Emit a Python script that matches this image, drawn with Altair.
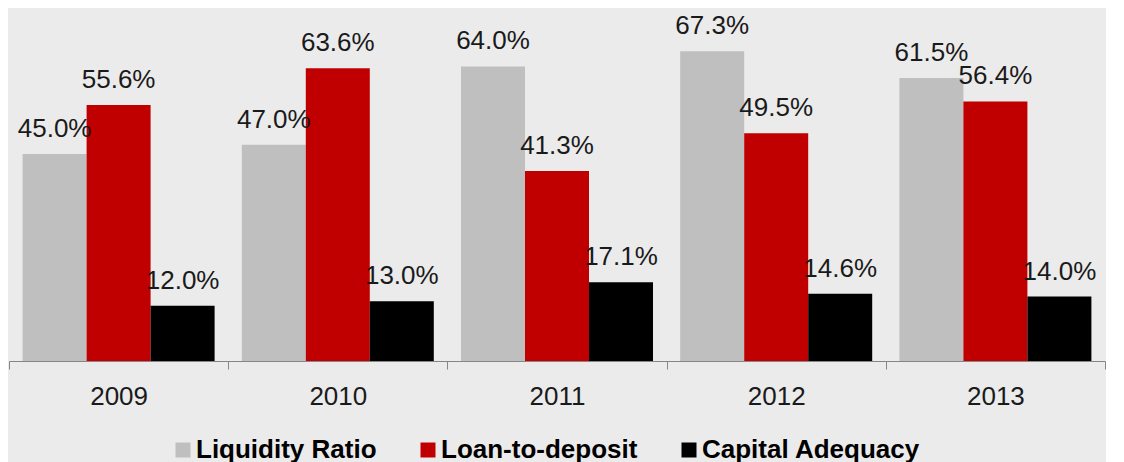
import altair as alt
import pandas as pd

years = ["2009", "2010", "2011", "2012", "2013"]
series = ["Liquidity Ratio", "Loan-to-deposit", "Capital Adequacy"]
liquidity = [0.450, 0.470, 0.640, 0.673, 0.615]
loan_to_deposit = [0.556, 0.636, 0.413, 0.495, 0.564]
capital_adequacy = [0.120, 0.130, 0.171, 0.146, 0.140]
colors = ["#bfbfbf", "#c00000", "#000000"]

rows = []
for s, vals in zip(series, [liquidity, loan_to_deposit, capital_adequacy]):
    for yr, v in zip(years, vals):
        rows.append({"year": yr, "series": s, "value": v})
df = pd.DataFrame(rows)

FONT = "Liberation Sans"
W, H = 1096, 353

x = alt.X(
    "year:N",
    sort=years,
    scale=alt.Scale(paddingInner=0, paddingOuter=0),
    axis=alt.Axis(
        title=None,
        labelAngle=0,
        tickBand="extent",
        tickSize=8,
        tickColor="#868686",
        domainColor="#868686",
        tickWidth=1,
        domainWidth=1,
        labelFont=FONT,
        labelFontSize=26,
        labelColor="#1a1a1a",
        labelPadding=14,
        grid=False,
    ),
)
xo = alt.XOffset("series:N", sort=series, scale=alt.Scale(paddingOuter=0.2125, paddingInner=0))
y = alt.Y("value:Q", scale=alt.Scale(domain=[0, 0.767], nice=False, zero=True), axis=None)

bars = alt.Chart(df).mark_bar().encode(
    x=x,
    xOffset=xo,
    y=y,
    color=alt.Color(
        "series:N",
        sort=series,
        scale=alt.Scale(domain=series, range=colors),
        legend=alt.Legend(
            title=None,
            orient="none",
            legendX=161,
            legendY=429,
            direction="horizontal",
            symbolType="square",
            symbolSize=225,
            symbolStrokeWidth=0,
            labelFont=FONT,
            labelFontSize=26,
            labelFontWeight="bold",
            labelColor="#000000",
            labelOffset=0,
            labelLimit=0,
            columnPadding=38,
            padding=0,
        ),
    ),
)

labels = alt.Chart(df).mark_text(
    dy=-25, baseline="middle", fontSize=26, font=FONT, color="#1a1a1a"
).encode(
    x=x,
    xOffset=xo,
    y=y,
    text=alt.Text("value:Q", format=".1%"),
)

chart = (
    alt.layer(bars, labels)
    .properties(width=W, height=H, padding=0, background="#ebebeb")
    .configure_view(stroke=None)
)

chart.save("out.html", embed_options={"renderer": "svg", "actions": False})
